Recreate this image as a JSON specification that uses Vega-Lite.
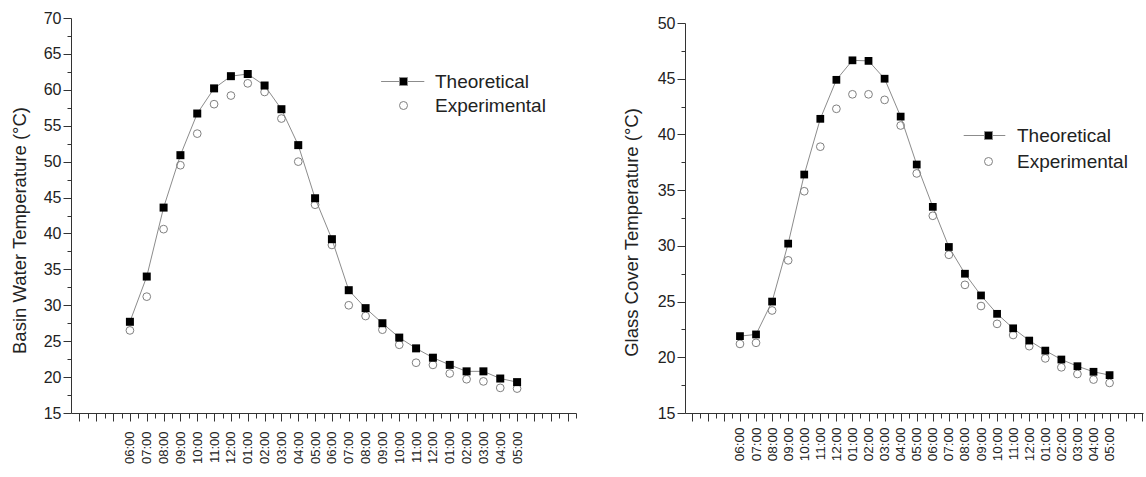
{
  "$schema": "https://vega.github.io/schema/vega-lite/v6.json",
  "padding": {"left": 10, "top": 10, "right": 0, "bottom": 0},
  "bounds": "flush",
  "spacing": 109,
  "background": "white",
  "config": {
    "view": {"stroke": null},
    "font": "Liberation Sans",
    "axis": {
      "domainColor": "#333333",
      "tickColor": "#333333",
      "labelColor": "#222222",
      "titleColor": "#222222",
      "titleFontWeight": "normal",
      "grid": false,
      "labelFont": "Liberation Sans",
      "titleFont": "Liberation Sans"
    },
    "legend": {
      "labelFont": "Liberation Sans",
      "labelFontSize": 19,
      "labelColor": "#222222",
      "symbolSize": 64,
      "symbolStrokeWidth": 1,
      "rowPadding": 5,
      "padding": 0,
      "orient": "none"
    }
  },
  "datasets": {
    "basin": [
      {"i": 0, "t": "06:00", "s": "Theoretical", "v": 27.7},
      {"i": 1, "t": "07:00", "s": "Theoretical", "v": 34.0},
      {"i": 2, "t": "08:00", "s": "Theoretical", "v": 43.6},
      {"i": 3, "t": "09:00", "s": "Theoretical", "v": 50.9},
      {"i": 4, "t": "10:00", "s": "Theoretical", "v": 56.7},
      {"i": 5, "t": "11:00", "s": "Theoretical", "v": 60.2},
      {"i": 6, "t": "12:00", "s": "Theoretical", "v": 61.9},
      {"i": 7, "t": "01:00", "s": "Theoretical", "v": 62.2},
      {"i": 8, "t": "02:00", "s": "Theoretical", "v": 60.6},
      {"i": 9, "t": "03:00", "s": "Theoretical", "v": 57.3},
      {"i": 10, "t": "04:00", "s": "Theoretical", "v": 52.3},
      {"i": 11, "t": "05:00", "s": "Theoretical", "v": 44.9},
      {"i": 12, "t": "06:00", "s": "Theoretical", "v": 39.2},
      {"i": 13, "t": "07:00", "s": "Theoretical", "v": 32.1},
      {"i": 14, "t": "08:00", "s": "Theoretical", "v": 29.6},
      {"i": 15, "t": "09:00", "s": "Theoretical", "v": 27.5},
      {"i": 16, "t": "10:00", "s": "Theoretical", "v": 25.5},
      {"i": 17, "t": "11:00", "s": "Theoretical", "v": 24.0},
      {"i": 18, "t": "12:00", "s": "Theoretical", "v": 22.7},
      {"i": 19, "t": "01:00", "s": "Theoretical", "v": 21.7},
      {"i": 20, "t": "02:00", "s": "Theoretical", "v": 20.8},
      {"i": 21, "t": "03:00", "s": "Theoretical", "v": 20.8},
      {"i": 22, "t": "04:00", "s": "Theoretical", "v": 19.8},
      {"i": 23, "t": "05:00", "s": "Theoretical", "v": 19.3},
      {"i": 0, "t": "06:00", "s": "Experimental", "v": 26.5},
      {"i": 1, "t": "07:00", "s": "Experimental", "v": 31.2},
      {"i": 2, "t": "08:00", "s": "Experimental", "v": 40.6},
      {"i": 3, "t": "09:00", "s": "Experimental", "v": 49.5},
      {"i": 4, "t": "10:00", "s": "Experimental", "v": 53.9},
      {"i": 5, "t": "11:00", "s": "Experimental", "v": 58.0},
      {"i": 6, "t": "12:00", "s": "Experimental", "v": 59.2},
      {"i": 7, "t": "01:00", "s": "Experimental", "v": 60.9},
      {"i": 8, "t": "02:00", "s": "Experimental", "v": 59.7},
      {"i": 9, "t": "03:00", "s": "Experimental", "v": 56.0},
      {"i": 10, "t": "04:00", "s": "Experimental", "v": 50.0},
      {"i": 11, "t": "05:00", "s": "Experimental", "v": 44.0},
      {"i": 12, "t": "06:00", "s": "Experimental", "v": 38.4},
      {"i": 13, "t": "07:00", "s": "Experimental", "v": 30.0},
      {"i": 14, "t": "08:00", "s": "Experimental", "v": 28.5},
      {"i": 15, "t": "09:00", "s": "Experimental", "v": 26.6},
      {"i": 16, "t": "10:00", "s": "Experimental", "v": 24.5},
      {"i": 17, "t": "11:00", "s": "Experimental", "v": 22.0},
      {"i": 18, "t": "12:00", "s": "Experimental", "v": 21.7},
      {"i": 19, "t": "01:00", "s": "Experimental", "v": 20.5},
      {"i": 20, "t": "02:00", "s": "Experimental", "v": 19.7},
      {"i": 21, "t": "03:00", "s": "Experimental", "v": 19.4},
      {"i": 22, "t": "04:00", "s": "Experimental", "v": 18.5},
      {"i": 23, "t": "05:00", "s": "Experimental", "v": 18.4}
    ],
    "glass": [
      {"i": 0, "t": "06:00", "s": "Theoretical", "v": 21.9},
      {"i": 1, "t": "07:00", "s": "Theoretical", "v": 22.05},
      {"i": 2, "t": "08:00", "s": "Theoretical", "v": 25.0},
      {"i": 3, "t": "09:00", "s": "Theoretical", "v": 30.2},
      {"i": 4, "t": "10:00", "s": "Theoretical", "v": 36.4},
      {"i": 5, "t": "11:00", "s": "Theoretical", "v": 41.4},
      {"i": 6, "t": "12:00", "s": "Theoretical", "v": 44.9},
      {"i": 7, "t": "01:00", "s": "Theoretical", "v": 46.65},
      {"i": 8, "t": "02:00", "s": "Theoretical", "v": 46.6},
      {"i": 9, "t": "03:00", "s": "Theoretical", "v": 45.0},
      {"i": 10, "t": "04:00", "s": "Theoretical", "v": 41.6},
      {"i": 11, "t": "05:00", "s": "Theoretical", "v": 37.3},
      {"i": 12, "t": "06:00", "s": "Theoretical", "v": 33.5},
      {"i": 13, "t": "07:00", "s": "Theoretical", "v": 29.9},
      {"i": 14, "t": "08:00", "s": "Theoretical", "v": 27.5},
      {"i": 15, "t": "09:00", "s": "Theoretical", "v": 25.55},
      {"i": 16, "t": "10:00", "s": "Theoretical", "v": 23.9},
      {"i": 17, "t": "11:00", "s": "Theoretical", "v": 22.6},
      {"i": 18, "t": "12:00", "s": "Theoretical", "v": 21.5},
      {"i": 19, "t": "01:00", "s": "Theoretical", "v": 20.6},
      {"i": 20, "t": "02:00", "s": "Theoretical", "v": 19.8},
      {"i": 21, "t": "03:00", "s": "Theoretical", "v": 19.2},
      {"i": 22, "t": "04:00", "s": "Theoretical", "v": 18.7},
      {"i": 23, "t": "05:00", "s": "Theoretical", "v": 18.4},
      {"i": 0, "t": "06:00", "s": "Experimental", "v": 21.2},
      {"i": 1, "t": "07:00", "s": "Experimental", "v": 21.3},
      {"i": 2, "t": "08:00", "s": "Experimental", "v": 24.2},
      {"i": 3, "t": "09:00", "s": "Experimental", "v": 28.7},
      {"i": 4, "t": "10:00", "s": "Experimental", "v": 34.9},
      {"i": 5, "t": "11:00", "s": "Experimental", "v": 38.9},
      {"i": 6, "t": "12:00", "s": "Experimental", "v": 42.3},
      {"i": 7, "t": "01:00", "s": "Experimental", "v": 43.6},
      {"i": 8, "t": "02:00", "s": "Experimental", "v": 43.6},
      {"i": 9, "t": "03:00", "s": "Experimental", "v": 43.1},
      {"i": 10, "t": "04:00", "s": "Experimental", "v": 40.8},
      {"i": 11, "t": "05:00", "s": "Experimental", "v": 36.5},
      {"i": 12, "t": "06:00", "s": "Experimental", "v": 32.7},
      {"i": 13, "t": "07:00", "s": "Experimental", "v": 29.2},
      {"i": 14, "t": "08:00", "s": "Experimental", "v": 26.5},
      {"i": 15, "t": "09:00", "s": "Experimental", "v": 24.6},
      {"i": 16, "t": "10:00", "s": "Experimental", "v": 23.0},
      {"i": 17, "t": "11:00", "s": "Experimental", "v": 22.0},
      {"i": 18, "t": "12:00", "s": "Experimental", "v": 21.0},
      {"i": 19, "t": "01:00", "s": "Experimental", "v": 19.9},
      {"i": 20, "t": "02:00", "s": "Experimental", "v": 19.1},
      {"i": 21, "t": "03:00", "s": "Experimental", "v": 18.5},
      {"i": 22, "t": "04:00", "s": "Experimental", "v": 18.0},
      {"i": 23, "t": "05:00", "s": "Experimental", "v": 17.7}
    ]
  },
  "hconcat": [
    {
      "width": 505,
      "height": 395,
      "data": {"name": "basin"},
      "encoding": {
        "x": {
          "field": "i",
          "type": "quantitative",
          "scale": {"domain": [-3.5, 26.5], "nice": false, "zero": false},
          "axis": {
            "title": null,
            "values": [-3,-2.5,-2,-1.5,-1,-0.5,0,0.5,1,1.5,2,2.5,3,3.5,4,4.5,5,5.5,6,6.5,7,7.5,8,8.5,9,9.5,10,10.5,11,11.5,12,12.5,13,13.5,14,14.5,15,15.5,16,16.5,17,17.5,18,18.5,19,19.5,20,20.5,21,21.5,22,22.5,23,23.5,24,24.5,25,25.5,26,26.5],
            "labelExpr": "datum.value >= 0 && datum.value <= 23 && floor(datum.value) == datum.value ? (((datum.value + 6) % 12 == 0 ? 12 : (datum.value + 6) % 12) < 10 ? '0' : '') + ((datum.value + 6) % 12 == 0 ? 12 : (datum.value + 6) % 12) + ':00' : ''",
            "labelAngle": -90,
            "labelFontSize": 13,
            "labelPadding": 10,
            "labelOverlap": false,
            "labelFlush": false,
            "tickSize": {"condition": {"test": "floor(datum.value) == datum.value", "value": 8}, "value": 5}
          }
        },
        "y": {
          "field": "v",
          "type": "quantitative",
          "scale": {"domain": [15, 70], "nice": false, "zero": false},
          "axis": {
            "title": "Basin Water Temperature (°C)",
            "titleFontSize": 18.5,
            "titlePadding": 14,
            "titleY": 212,
            "values": [15,17.5,20,22.5,25,27.5,30,32.5,35,37.5,40,42.5,45,47.5,50,52.5,55,57.5,60,62.5,65,67.5,70],
            "labelExpr": "datum.value % 5 == 0 ? datum.label : ''",
            "labelFontSize": 16,
            "labelPadding": 2,
            "labelOverlap": false,
            "labelFlush": false,
            "tickSize": {"condition": {"test": "datum.value % 5 == 0", "value": 8}, "value": 4}
          }
        }
      },
      "layer": [
        {
          "transform": [{"filter": "datum.s == 'Theoretical'"}],
          "mark": {"type": "line", "color": "#8c8c8c", "strokeWidth": 1}
        },
        {
          "transform": [{"filter": "datum.s == 'Experimental'"}],
          "mark": {"type": "point", "shape": "circle", "filled": false, "color": "#808080", "size": 60, "strokeWidth": 1, "opacity": 1}
        },
        {
          "transform": [{"filter": "datum.s == 'Theoretical'"}],
          "mark": {"type": "point", "shape": "square", "filled": true, "color": "#000000", "size": 64, "opacity": 1}
        },
        {
          "transform": [{"filter": "datum.i < 0"}],
          "mark": {"type": "point", "filled": true, "fill": "#000000", "stroke": "#8c8c8c", "strokeWidth": 1, "opacity": 1},
          "encoding": {
            "shape": {
              "field": "s",
              "type": "nominal",
              "scale": {"domain": ["Theoretical"], "range": ["M-5.6,0H-1M1,0H5.2M-1,-1H1V1H-1Z"]},
              "legend": {"title": null, "legendX": 323, "legendY": 54, "labelOffset": 22}
            }
          }
        },
        {
          "transform": [{"filter": "datum.i < 0"}],
          "mark": {"type": "point", "filled": false, "color": "#808080", "strokeWidth": 1, "opacity": 1},
          "encoding": {
            "shape": {
              "field": "s",
              "type": "nominal",
              "scale": {"domain": ["Experimental"], "range": ["circle"]},
              "legend": {"title": null, "legendX": 323, "legendY": 78, "labelOffset": 22}
            }
          }
        }
      ],
      "resolve": {"scale": {"shape": "independent"}, "legend": {"shape": "independent"}}
    },
    {
      "width": 458,
      "height": 395,
      "data": {"name": "glass"},
      "encoding": {
        "x": {
          "field": "i",
          "type": "quantitative",
          "scale": {"domain": [-3.42, 25.08], "nice": false, "zero": false},
          "axis": {
            "title": null,
            "values": [-3,-2.5,-2,-1.5,-1,-0.5,0,0.5,1,1.5,2,2.5,3,3.5,4,4.5,5,5.5,6,6.5,7,7.5,8,8.5,9,9.5,10,10.5,11,11.5,12,12.5,13,13.5,14,14.5,15,15.5,16,16.5,17,17.5,18,18.5,19,19.5,20,20.5,21,21.5,22,22.5,23,23.5,24,24.5,25],
            "labelExpr": "datum.value >= 0 && datum.value <= 23 && floor(datum.value) == datum.value ? (((datum.value + 6) % 12 == 0 ? 12 : (datum.value + 6) % 12) < 10 ? '0' : '') + ((datum.value + 6) % 12 == 0 ? 12 : (datum.value + 6) % 12) + ':00' : ''",
            "labelAngle": -90,
            "labelFontSize": 13.5,
            "labelPadding": 6,
            "labelOverlap": false,
            "labelFlush": false,
            "tickSize": {"condition": {"test": "floor(datum.value) == datum.value", "value": 8}, "value": 5}
          }
        },
        "y": {
          "field": "v",
          "type": "quantitative",
          "scale": {"domain": [15, 50], "nice": false, "zero": false, "range": [395, 5]},
          "axis": {
            "title": "Glass Cover Temperature (°C)",
            "titleFontSize": 18.5,
            "titlePadding": 16,
            "titleY": 214,
            "values": [15,17.5,20,22.5,25,27.5,30,32.5,35,37.5,40,42.5,45,47.5,50],
            "labelExpr": "datum.value % 5 == 0 ? datum.label : ''",
            "labelFontSize": 16,
            "labelPadding": 2,
            "labelOverlap": false,
            "labelFlush": false,
            "tickSize": {"condition": {"test": "datum.value % 5 == 0", "value": 8}, "value": 4}
          }
        }
      },
      "layer": [
        {
          "transform": [{"filter": "datum.s == 'Theoretical'"}],
          "mark": {"type": "line", "color": "#8c8c8c", "strokeWidth": 1}
        },
        {
          "transform": [{"filter": "datum.s == 'Experimental'"}],
          "mark": {"type": "point", "shape": "circle", "filled": false, "color": "#808080", "size": 60, "strokeWidth": 1, "opacity": 1}
        },
        {
          "transform": [{"filter": "datum.s == 'Theoretical'"}],
          "mark": {"type": "point", "shape": "square", "filled": true, "color": "#000000", "size": 60, "opacity": 1}
        },
        {
          "transform": [{"filter": "datum.i < 0"}],
          "mark": {"type": "point", "filled": true, "fill": "#000000", "stroke": "#8c8c8c", "strokeWidth": 1, "opacity": 1},
          "encoding": {
            "shape": {
              "field": "s",
              "type": "nominal",
              "scale": {"domain": ["Theoretical"], "range": ["M-6.2,0H-1M1,0H4.2M-1,-1H1V1H-1Z"]},
              "legend": {"title": null, "legendX": 294, "legendY": 108, "labelOffset": 19}
            }
          }
        },
        {
          "transform": [{"filter": "datum.i < 0"}],
          "mark": {"type": "point", "filled": false, "color": "#808080", "strokeWidth": 1, "opacity": 1},
          "encoding": {
            "shape": {
              "field": "s",
              "type": "nominal",
              "scale": {"domain": ["Experimental"], "range": ["circle"]},
              "legend": {"title": null, "legendX": 294, "legendY": 134, "labelOffset": 19}
            }
          }
        }
      ],
      "resolve": {"scale": {"shape": "independent"}, "legend": {"shape": "independent"}}
    }
  ],
  "resolve": {
    "scale": {"x": "independent", "y": "independent", "shape": "independent"},
    "legend": {"shape": "independent"},
    "axis": {"x": "independent", "y": "independent"}
  }
}
